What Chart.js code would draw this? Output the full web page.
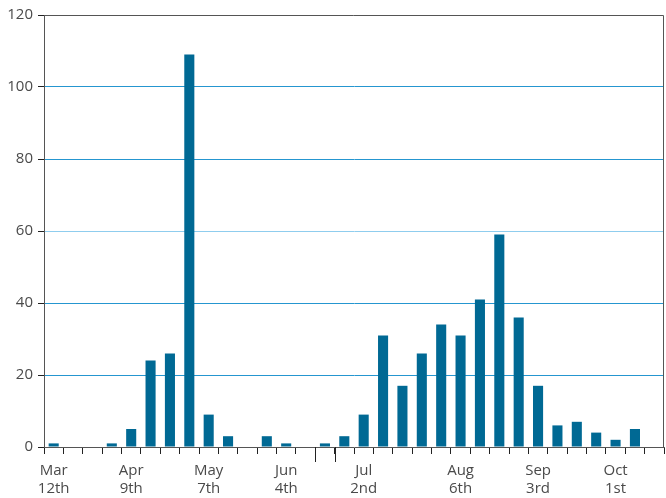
<!DOCTYPE html>
<html>
<head>
<meta charset="utf-8">
<script src="https://cdn.jsdelivr.net/npm/chart.js@4"></script>
<style>
  html, body { margin: 0; padding: 0; background: #fff; }
  #wrap { width: 666px; height: 498px; }
</style>
</head>
<body>
<div id="wrap"><canvas id="barChart"></canvas></div>
<script>
// one bar per week
var weeks = ['Mar 12','Mar 19','Mar 26','Apr 2','Apr 9','Apr 16','Apr 23','Apr 30',
             'May 7','May 14','May 21','May 28','Jun 4','Jun 11','Jun 18','Jun 25',
             'Jul 2','Jul 9','Jul 16','Jul 23','Jul 30','Aug 6','Aug 13','Aug 20',
             'Aug 27','Sep 3','Sep 10','Sep 17','Sep 24','Oct 1','Oct 8','Oct 15'];
var counts = [1, 0, 0, 1, 5, 24, 26, 109, 9, 3, 0, 3, 1, 0, 1, 3,
              9, 31, 17, 26, 34, 31, 41, 59, 36, 17, 6, 7, 4, 2, 5, 0];
// which weeks get an axis label
var labelIdx = [0, 4, 8, 12, 16, 21, 25, 29];
var labelText = [['Mar','12th'], ['Apr','9th'], ['May','7th'], ['Jun','4th'],
                 ['Jul','2nd'], ['Aug','6th'], ['Sep','3rd'], ['Oct','1st']];
var yTicks = [0, 20, 40, 60, 80, 100, 120];

var frame = {
    id: 'frame',
    afterDraw: function (chart) {
        var c = chart.ctx, a = chart.chartArea, x = chart.scales.x;
        c.save();
        c.strokeStyle = '#555';
        c.lineWidth = 1;
        c.beginPath();
        c.moveTo(a.left, a.top + 0.5);
        c.lineTo(a.right - 0.5, a.top + 0.5);
        c.lineTo(a.right - 0.5, a.bottom);
        c.stroke();
        // longer ticks around the mid-June week
        c.strokeStyle = '#222';
        [13.5, 14.5].forEach(function (v) {
            var px = Math.round(x.getPixelForValue(v)) + 0.5;
            c.beginPath();
            c.moveTo(px, a.bottom);
            c.lineTo(px, a.bottom + 15);
            c.stroke();
        });
        c.restore();
    }
};

var ctx = document.getElementById('barChart').getContext('2d');
new Chart(ctx, {
    type: 'bar',
    data: {
        labels: weeks,
        datasets: [{
            data: counts,
            backgroundColor: '#006994',
            barPercentage: 0.52,
            categoryPercentage: 1.0
        }]
    },
    options: {
        responsive: true,
        maintainAspectRatio: false,
        animation: false,
        layout: { padding: { top: 15, right: 2, left: 0, bottom: 0 } },
        plugins: { legend: { display: false }, tooltip: { enabled: false } },
        scales: {
            x: {
                offset: true,
                grid: {
                    offset: true,
                    drawOnChartArea: false,
                    tickLength: 7,
                    color: '#222'
                },
                border: { color: '#555' },
                ticks: {
                    autoSkip: false,
                    maxRotation: 0,
                    padding: 7,
                    color: '#4a4a4a',
                    font: { family: 'Open Sans', size: 15, lineHeight: 1.25 },
                    callback: function (val, i) {
                        var k = labelIdx.indexOf(i);
                        return k >= 0 ? labelText[k] : '';
                    }
                },
                afterFit: function (s) { s.height = 51; }
            },
            y: {
                min: 0,
                max: 120,
                afterBuildTicks: function (s) {
                    s.ticks = yTicks.map(function (v) { return { value: v }; });
                },
                grid: {
                    tickLength: 6,
                    tickColor: '#222',
                    color: function (c) {
                        var v = c.tick ? c.tick.value : 0;
                        if (v === 0 || v === 120) return 'rgba(0,0,0,0)';
                        return v === 60 ? '#8fcdee' : '#2596d0';
                    }
                },
                border: { color: '#555' },
                ticks: {
                    padding: 5,
                    color: '#4a4a4a',
                    font: { family: 'Open Sans', size: 15 }
                },
                afterFit: function (s) { s.width = 44; }
            }
        }
    },
    plugins: [frame]
});
</script>
</body>
</html>
